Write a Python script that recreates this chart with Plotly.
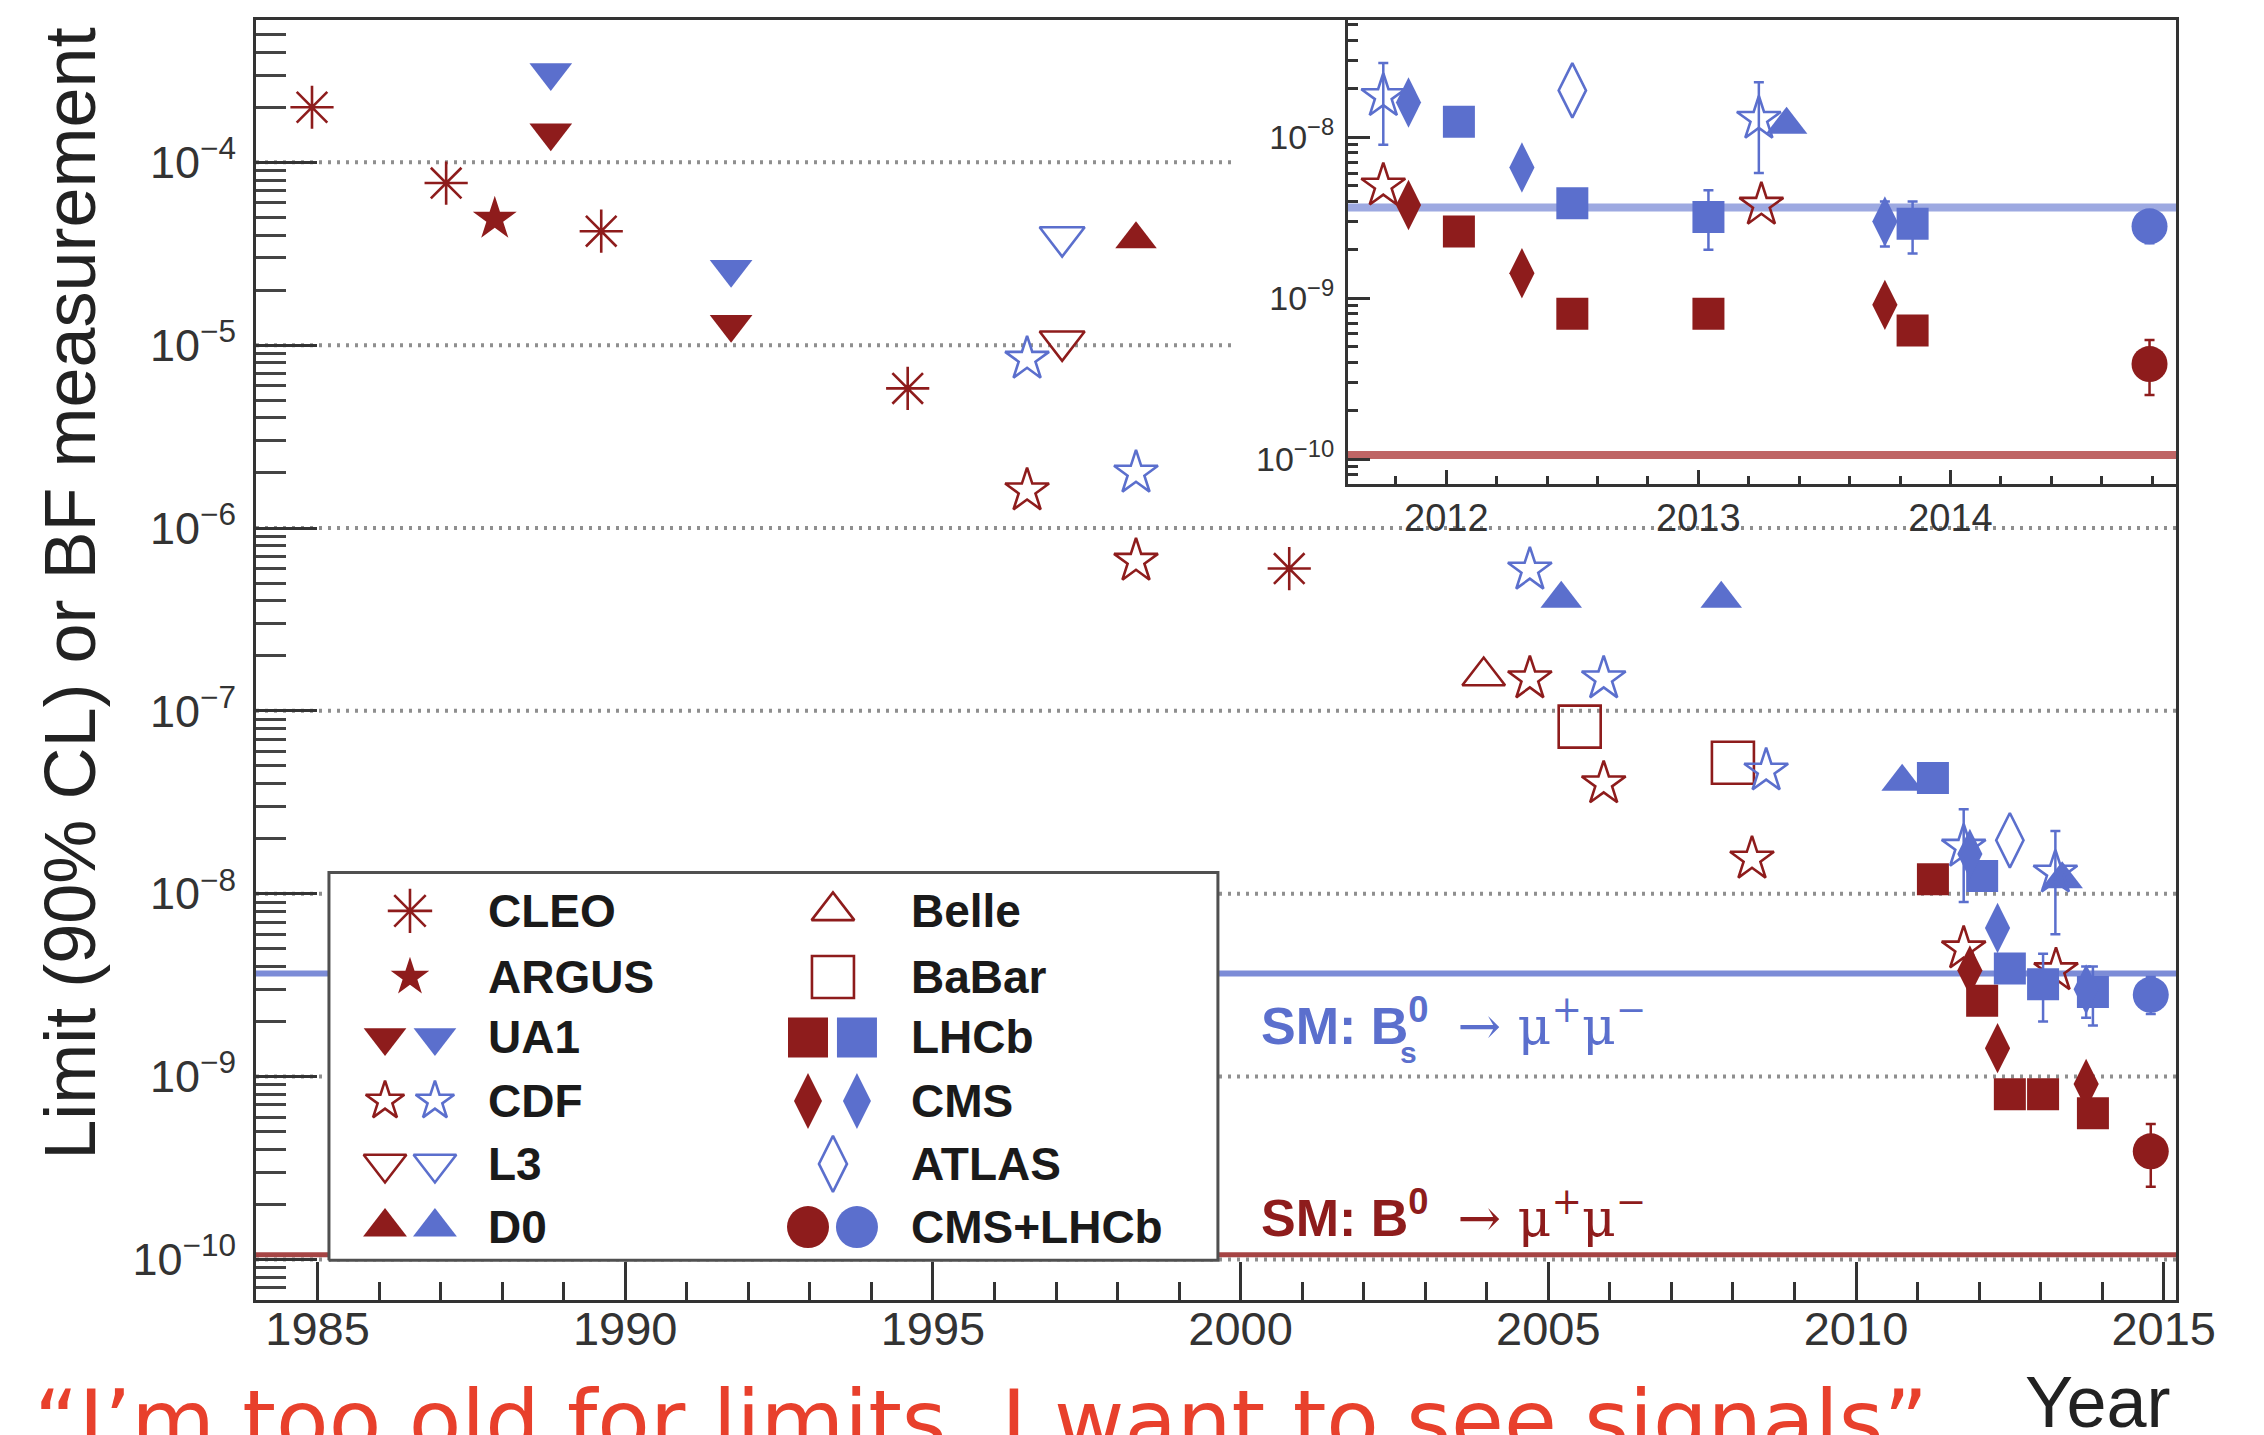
import numpy as np
import plotly.graph_objects as go

RED = "#8e1c1c"
BLUE = "#5b6fcd"
FONT = "Liberation Sans, Arial, Helvetica, sans-serif"

# ---------------- data: B0 -> mu mu (red) and Bs -> mu mu (blue) ----------------
cleo_year = [1984.91, 1987.09, 1989.61, 1994.59, 2000.79]
cleo_b0 = [2.0e-4, 7.7e-5, 4.2e-5, 5.8e-6, 6.0e-7]

argus_year = [1987.88]
argus_b0 = [4.9e-5]

ua1_year = [1988.79, 1991.72]
ua1_b0 = [1.45e-4, 1.3e-5]
ua1_bs = [3.1e-4, 2.6e-5]

cdf_b0_year = [1996.53, 1998.30, 2004.70, 2005.90, 2008.31, 2011.75, 2013.25]
cdf_b0 = [1.6e-6, 6.6e-7, 1.5e-7, 4.0e-8, 1.55e-8, 5.0e-9, 3.8e-9]
cdf_bs_year = [1996.53, 1998.30, 2004.70, 2005.90, 2008.54]
cdf_bs = [8.4e-6, 2.0e-6, 5.9e-7, 1.5e-7, 4.7e-8]
cdf_bs_meas_year = [2011.75, 2013.24]
cdf_bs_meas = [1.8e-8, 1.3e-8]
cdf_bs_meas_up = [1.1e-8, 0.9e-8]
cdf_bs_meas_dn = [0.9e-8, 0.7e-8]

l3_year = [1997.10]
l3_b0 = [1.05e-5]
l3_bs = [3.9e-5]

d0_b0_year = [1998.30]
d0_b0 = [3.8e-5]
d0_bs_year = [2005.21, 2007.81, 2010.75, 2013.35]
d0_bs = [4.1e-7, 4.1e-7, 4.1e-8, 1.2e-8]

belle_year = [2003.95]
belle_b0 = [1.55e-7]

babar_year = [2005.51, 2008.00]
babar_b0 = [8.2e-8, 5.2e-8]

lhcb_b0_year = [2011.25, 2012.05, 2012.50, 2013.04, 2013.85]
lhcb_b0 = [1.2e-8, 2.6e-9, 8.0e-10, 8.0e-10, 6.3e-10]
lhcb_bs_year = [2011.25, 2012.05, 2012.50]
lhcb_bs = [4.3e-8, 1.25e-8, 3.9e-9]
lhcb_bs_meas_year = [2013.04, 2013.85]
lhcb_bs_meas = [3.2e-9, 2.9e-9]
lhcb_bs_meas_up = [1.5e-9, 1.1e-9]
lhcb_bs_meas_dn = [1.2e-9, 1.0e-9]

cms_b0_year = [2011.85, 2012.30, 2013.74]
cms_b0 = [3.8e-9, 1.43e-9, 9.1e-10]
cms_bs_year = [2011.85, 2012.30]
cms_bs = [1.65e-8, 6.5e-9]
cms_bs_meas_year = [2013.74]
cms_bs_meas = [3.0e-9]
cms_bs_meas_up = [1.0e-9]
cms_bs_meas_dn = [0.9e-9]

atlas_year = [2012.50]
atlas_bs = [1.96e-8]

comb_year = [2014.79]
comb_b0 = [3.9e-10]
comb_b0_up = [1.6e-10]
comb_b0_dn = [1.4e-10]
comb_bs = [2.8e-9]
comb_bs_up = [0.7e-9]
comb_bs_dn = [0.6e-9]

# Standard Model predictions
sm_bs = 3.66e-9
sm_b0 = 1.06e-10

# axis ranges
main_xrange = [1984.0, 2015.2]
main_yrange = [np.log10(6e-11), np.log10(6e-4)]
inset_xrange = [2011.61, 2014.895]
inset_yrange = [-10.155, -7.27]

decades_main = [1e-10, 1e-9, 1e-8, 1e-7, 1e-6, 1e-5, 1e-4]
decades_inset = [1e-10, 1e-9, 1e-8]


def sup_label(v):
    e = int(round(np.log10(v)))
    return "10<sup>\u2212%d</sup>" % (-e)


def minor_log(lo, hi):
    vals = []
    for e in range(lo, hi + 1):
        for k in range(2, 10):
            vals.append(k * 10.0 ** e)
    return vals


# marker styles per experiment
STYLE = {
    "CLEO": dict(symbol="asterisk-open", size=36, lw=2.6),
    "ARGUS": dict(symbol="star", size=33, lw=0),
    "UA1": dict(symbol="triangle-down", size=37, lw=0),
    "CDF": dict(symbol="star-open", size=33, lw=2.6),
    "L3": dict(symbol="triangle-down-open", size=39, lw=2.6),
    "D0": dict(symbol="triangle-up", size=36, lw=0),
    "Belle": dict(symbol="triangle-up-open", size=37, lw=2.6),
    "BaBar": dict(symbol="square-open", size=42, lw=2.6),
    "LHCb": dict(symbol="square", size=32, lw=0),
    "CMS": dict(symbol="diamond-tall", size=36, lw=0),
    "ATLAS": dict(symbol="diamond-tall-open", size=39, lw=2.6),
    "CMS+LHCb": dict(symbol="circle", size=36, lw=0),
}

fig = go.Figure()

# ---------------- decade grid lines (dotted), stopping short of the inset ----------------
inset_left_year = main_xrange[0] + 0.51 * (main_xrange[1] - main_xrange[0])
for v in decades_main:
    x_end = inset_left_year if v >= 1e-5 else main_xrange[1]
    fig.add_trace(go.Scatter(x=[main_xrange[0], x_end], y=[v, v], mode="lines",
                             line=dict(color="#8f8f8f", width=4, dash="3px,6px"),
                             xaxis="x", yaxis="y", hoverinfo="skip"))


def marker(exp, color, size=None):
    st = STYLE[exp]
    return dict(symbol=st["symbol"], size=size or st["size"], color=color,
                line=dict(color=color, width=st["lw"]))


def add_points(exp, x, y, color, up=None, dn=None):
    for xa, ya in (("x", "y"), ("x2", "y2")):
        kw = {}
        if up is not None:
            kw["error_y"] = dict(type="data", symmetric=False, array=up, arrayminus=dn,
                                 color=color, thickness=2.5, width=5)
        fig.add_trace(go.Scatter(x=x, y=y, mode="markers", marker=marker(exp, color),
                                 xaxis=xa, yaxis=ya, hoverinfo="skip", **kw))


# SM prediction lines (main panel)
for val, col, w in ((sm_bs, "rgba(91,111,205,0.8)", 6), (sm_b0, "rgba(150,35,35,0.85)", 5)):
    fig.add_trace(go.Scatter(x=main_xrange, y=[val, val], mode="lines",
                             line=dict(color=col, width=w), xaxis="x", yaxis="y",
                             hoverinfo="skip"))
# SM prediction lines (inset)
for val, col in ((sm_bs, "rgba(91,111,205,0.6)"), (sm_b0, "rgba(170,50,50,0.75)")):
    fig.add_trace(go.Scatter(x=inset_xrange, y=[val, val], mode="lines",
                             line=dict(color=col, width=8), xaxis="x2", yaxis="y2",
                             hoverinfo="skip"))

add_points("CLEO", cleo_year, cleo_b0, RED)
add_points("ARGUS", argus_year, argus_b0, RED)
add_points("UA1", ua1_year, ua1_b0, RED)
add_points("UA1", ua1_year, ua1_bs, BLUE)
add_points("L3", l3_year, l3_b0, RED)
add_points("L3", l3_year, l3_bs, BLUE)
add_points("D0", d0_b0_year, d0_b0, RED)
add_points("D0", d0_bs_year, d0_bs, BLUE)
add_points("Belle", belle_year, belle_b0, RED)
add_points("BaBar", babar_year, babar_b0, RED)
add_points("CDF", cdf_bs_year, cdf_bs, BLUE)
add_points("CDF", cdf_bs_meas_year, cdf_bs_meas, BLUE, cdf_bs_meas_up, cdf_bs_meas_dn)
add_points("CDF", cdf_b0_year, cdf_b0, RED)
add_points("ATLAS", atlas_year, atlas_bs, BLUE)
add_points("LHCb", lhcb_bs_year, lhcb_bs, BLUE)
add_points("LHCb", lhcb_bs_meas_year, lhcb_bs_meas, BLUE, lhcb_bs_meas_up, lhcb_bs_meas_dn)
add_points("CMS", cms_bs_year, cms_bs, BLUE)
add_points("CMS", cms_bs_meas_year, cms_bs_meas, BLUE, cms_bs_meas_up, cms_bs_meas_dn)
add_points("CMS", cms_b0_year, cms_b0, RED)
add_points("LHCb", lhcb_b0_year, lhcb_b0, RED)
add_points("CMS+LHCb", comb_year, comb_bs, BLUE, comb_bs_up, comb_bs_dn)
add_points("CMS+LHCb", comb_year, comb_b0, RED, comb_b0_up, comb_b0_dn)

# ---------------- legend box (overlay axes in plot-fraction units) ----------------
leg_box = dict(x0=0.038, x1=0.501, y0=0.031, y1=0.334)
fig.add_trace(go.Scatter(
    x=[leg_box["x0"], leg_box["x1"], leg_box["x1"], leg_box["x0"], leg_box["x0"]],
    y=[leg_box["y0"], leg_box["y0"], leg_box["y1"], leg_box["y1"], leg_box["y0"]],
    mode="lines", fill="toself", fillcolor="white",
    line=dict(color="#505050", width=3), xaxis="x3", yaxis="y3", hoverinfo="skip"))

leg_rows = [0.304, 0.2523, 0.2051, 0.1555, 0.1063, 0.057]
col1 = dict(red=0.0672, blue=0.0932, single=0.0802, text=0.1198)
col2 = dict(red=0.2875, blue=0.313, single=0.3005, text=0.3401)
legend_entries = [
    (col1, 0, "CLEO", [RED], 37),
    (col1, 1, "ARGUS", [RED], 29),
    (col1, 2, "UA1", [RED, BLUE], 37),
    (col1, 3, "CDF", [RED, BLUE], 29),
    (col1, 4, "L3", [RED, BLUE], 37),
    (col1, 5, "D0", [RED, BLUE], 38),
    (col2, 0, "Belle", [RED], 37),
    (col2, 1, "BaBar", [RED], 42),
    (col2, 2, "LHCb", [RED, BLUE], 40),
    (col2, 3, "CMS", [RED, BLUE], 40),
    (col2, 4, "ATLAS", [BLUE], 40),
    (col2, 5, "CMS+LHCb", [RED, BLUE], 42),
]
annotations = []
for col, row, name, colors, size in legend_entries:
    yv = leg_rows[row]
    if len(colors) == 1:
        xs = [col["single"]]
    else:
        xs = [col["red"], col["blue"]]
    for xv, c in zip(xs, colors):
        fig.add_trace(go.Scatter(x=[xv], y=[yv], mode="markers", marker=marker(name, c, size),
                                 xaxis="x3", yaxis="y3", hoverinfo="skip"))
    annotations.append(dict(x=col["text"], y=yv, xref="paper", yref="paper", text="<b>%s</b>" % name,
                            showarrow=False, xanchor="left", yanchor="middle",
                            font=dict(family=FONT, size=46, color="#1a1a1a")))

# ---------------- text ----------------
annotations += [
    dict(x=-0.097, y=0.5516, xref="paper", yref="paper", text="Limit (90% CL) or BF measurement",
         textangle=-90, showarrow=False, xanchor="center", yanchor="middle",
         font=dict(family=FONT, size=72, color="#222")),
    dict(x=0.998, y=-0.0797, xref="paper", yref="paper", text="Year", showarrow=False,
         xanchor="right", yanchor="middle", font=dict(family=FONT, size=72, color="#222")),
    dict(x=-0.1167, y=-0.0945, xref="paper", yref="paper",
         text="\u201cI\u2019m too old for limits, I want to see signals\u201d", showarrow=False,
         xanchor="left", yanchor="middle", font=dict(family="DejaVu Sans, sans-serif", size=86, color="#e8402c")),
    dict(x=0.5224, y=0.2172, xref="paper", yref="paper",
         text="<b>SM: B<sup>0</sup></b>  <span style='font-family:DejaVu Serif'>\u2192 \u03bc<sup>+</sup>\u03bc<sup>\u2212</sup></span>",
         showarrow=False, xanchor="left", yanchor="middle", font=dict(family=FONT, size=52, color=BLUE)),
    dict(x=0.6005, y=0.193, xref="paper", yref="paper", text="<b>s</b>", showarrow=False,
         xanchor="center", yanchor="middle", font=dict(family=FONT, size=30, color=BLUE)),
    dict(x=0.5224, y=0.0672, xref="paper", yref="paper",
         text="<b>SM: B<sup>0</sup></b>  <span style='font-family:DejaVu Serif'>\u2192 \u03bc<sup>+</sup>\u03bc<sup>\u2212</sup></span>",
         showarrow=False, xanchor="left", yanchor="middle", font=dict(family=FONT, size=52, color=RED)),
]

axis_common = dict(showline=True, mirror=True, linecolor="#333", linewidth=3, ticks="inside",
                   tickcolor="#333", tickwidth=3, showgrid=False, zeroline=False)

fig.update_layout(
    width=2264, height=1435,
    margin=dict(l=256, r=88, t=20, b=135),
    paper_bgcolor="white", plot_bgcolor="white",
    showlegend=False,
    font=dict(family=FONT, color="#222"),
    xaxis=dict(domain=[0, 1], range=main_xrange, anchor="y",
               tickvals=[1985, 1990, 1995, 2000, 2005, 2010, 2015], ticklen=38,
               minor=dict(tickvals=list(range(1984, 2016)), ticks="inside", ticklen=18,
                          tickwidth=3, tickcolor="#333", showgrid=False),
               tickfont=dict(size=47, color="#333"), ticklabelstandoff=-14, **axis_common),
    yaxis=dict(domain=[0, 1], type="log", range=main_yrange, anchor="x",
               tickvals=decades_main, ticktext=[sup_label(v) for v in decades_main], ticklen=61,
               minor=dict(tickvals=minor_log(-11, -4), ticks="inside", ticklen=30,
                          tickwidth=3, tickcolor="#444", showgrid=False),
               tickfont=dict(size=45, color="#333"), ticklabelstandoff=8, **axis_common),
    xaxis2=dict(domain=[0.56875, 1.0], range=inset_xrange, anchor="y2",
                tickvals=[2012, 2013, 2014], ticklen=14,
                minor=dict(tickvals=[round(2011.6 + 0.2 * i, 1) for i in range(18)], ticks="inside",
                           ticklen=8, tickwidth=3, tickcolor="#333", showgrid=False),
                tickfont=dict(size=38, color="#333"), ticklabelstandoff=-2, **axis_common),
    yaxis2=dict(domain=[0.6375, 1.0], type="log", range=inset_yrange, anchor="x2",
                tickvals=decades_inset, ticktext=[sup_label(v) for v in decades_inset], ticklen=22,
                minor=dict(tickvals=minor_log(-11, -8), ticks="inside", ticklen=10,
                           tickwidth=3, tickcolor="#333", showgrid=False),
                tickfont=dict(size=34, color="#333"), ticklabelstandoff=4, **axis_common),
    xaxis3=dict(overlaying="x", anchor="y3", range=[0, 1], visible=False),
    yaxis3=dict(overlaying="y", anchor="x3", range=[0, 1], visible=False),
    annotations=annotations,
)

fig.write_html("out.html")
